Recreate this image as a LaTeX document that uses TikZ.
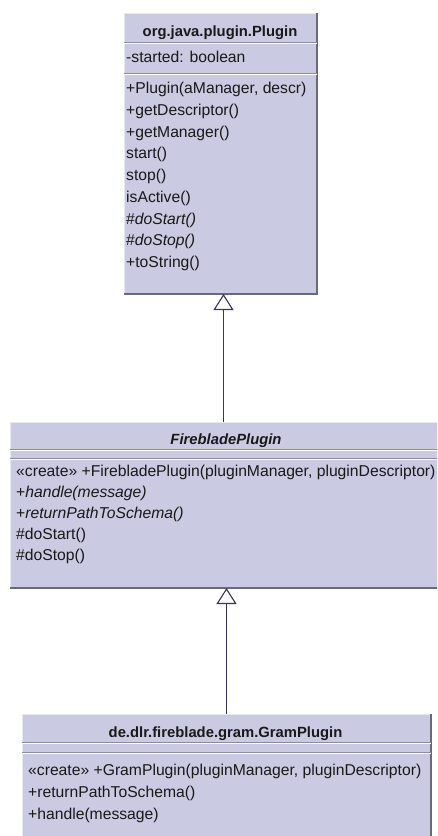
\documentclass[tikz,border=0pt]{standalone}
\usepackage{fontspec}
\setmainfont{Liberation Sans}
\usetikzlibrary{arrows.meta}
\definecolor{boxfill}{RGB}{202,202,226}
\definecolor{boxdark}{RGB}{105,105,120}
\definecolor{boxlight}{RGB}{232,232,242}
\definecolor{sepdark}{RGB}{140,140,160}
\definecolor{linkcol}{RGB}{55,55,85}
\definecolor{txt}{RGB}{25,25,25}
\begin{document}
\begin{tikzpicture}[x=1pt,y=-1pt,
 classbox/.style={rectangle, fill=boxfill, draw=boxlight, line width=1pt, inner sep=0pt, anchor=north west},
 member/.style={anchor=base west, inner sep=0pt, font=\fontsize{15.7}{18}\selectfont, text=txt},
 ctitle/.style={anchor=base, inner sep=0pt, font=\fontsize{14.8}{18}\selectfont\bfseries, text=txt},
 shadowedge/.style={draw=boxdark, line width=2pt},
 sepline/.style={draw=sepdark, line width=1pt},
 seplight/.style={draw=white, line width=0.8pt},
 inherit/.style={draw=linkcol, line width=1.2pt, -{Triangle[open, width=20pt, length=16pt, fill=white, line width=1.1pt]}}]
\useasboundingbox (0,0) rectangle (437,836);
\clip (0,0) rectangle (437,836);

% ---------- org.java.plugin.Plugin ----------
\node[classbox, minimum width=192pt, minimum height=280pt] (plugin) at (124,13) {};
\draw[shadowedge] (plugin.north east) -- (plugin.south east) -- (plugin.south west);
\draw[sepline] (plugin.west |- 0,42) -- (plugin.east |- 0,42);
\draw[seplight] (plugin.west |- 0,43.2) -- (plugin.east |- 0,43.2);
\draw[sepline] (plugin.west |- 0,73) -- (plugin.east |- 0,73);
\draw[seplight] (plugin.west |- 0,74.2) -- (plugin.east |- 0,74.2);
\node[ctitle] (p0) at (220,36) {org.java.plugin.Plugin};
\node[member] (p1) at (126,62.5) {-started: boolean};
\node[member] (p2) at (126,93.5) {+Plugin(aManager, descr)};
\node[member] (p3) at (126,115.2) {+getDescriptor()};
\node[member] (p4) at (126,137) {+getManager()};
\node[member] (p5) at (126,158.7) {start()};
\node[member] (p6) at (126,180.5) {stop()};
\node[member] (p7) at (126,202.2) {isActive()};
\node[member] (p8) at (126,224) {\#\textit{doStart()}};
\node[member] (p9) at (126,245.7) {\#\textit{doStop()}};
\node[member] (p10) at (126,267.5) {+toString()};

% ---------- FirebladePlugin ----------
\node[classbox, minimum width=440pt, minimum height=165pt] (fireblade) at (10,422) {};
\draw[shadowedge] (fireblade.south west) -- (fireblade.south east);
\draw[sepline] (fireblade.west |- 0,449) -- (fireblade.east |- 0,449);
\draw[seplight] (fireblade.west |- 0,450.2) -- (fireblade.east |- 0,450.2);
\draw[sepline] (fireblade.west |- 0,458.5) -- (fireblade.east |- 0,458.5);
\draw[seplight] (fireblade.west |- 0,459.7) -- (fireblade.east |- 0,459.7);
\node[ctitle] (f0) at (226,444) {\textit{FirebladePlugin}};
\node[member] (f1) at (16,476.5) {«create» +FirebladePlugin(pluginManager, pluginDescriptor)};
\node[member] (f2) at (16,497.5) {+\textit{handle(message)}};
\node[member] (f3) at (16,518.5) {+\textit{returnPathToSchema()}};
\node[member] (f4) at (16,539.5) {\#doStart()};
\node[member] (f5) at (16,560.5) {\#doStop()};

% ---------- de.dlr.fireblade.gram.GramPlugin ----------
\node[classbox, minimum width=408pt, minimum height=140pt] (gram) at (22,714) {};
\draw[shadowedge] (gram.north east) -- (gram.south east);
\draw[sepline] (gram.west |- 0,742) -- (gram.east |- 0,742);
\draw[seplight] (gram.west |- 0,743.2) -- (gram.east |- 0,743.2);
\draw[sepline] (gram.west |- 0,752) -- (gram.east |- 0,752);
\draw[seplight] (gram.west |- 0,753.2) -- (gram.east |- 0,753.2);
\node[ctitle] (g0) at (225.5,737) {de.dlr.fireblade.gram.GramPlugin};
\node[member] (g1) at (28,775.5) {«create» +GramPlugin(pluginManager, pluginDescriptor)};
\node[member] (g2) at (28,797.2) {+returnPathToSchema()};
\node[member] (g3) at (28,819) {+handle(message)};

% ---------- generalizations ----------
\draw[inherit] ([xshift=3pt]plugin.south |- fireblade.north) -- ([xshift=3pt]plugin.south);
\draw[inherit] (gram.north) -- (gram.north |- fireblade.south);
\end{tikzpicture}
\end{document}
